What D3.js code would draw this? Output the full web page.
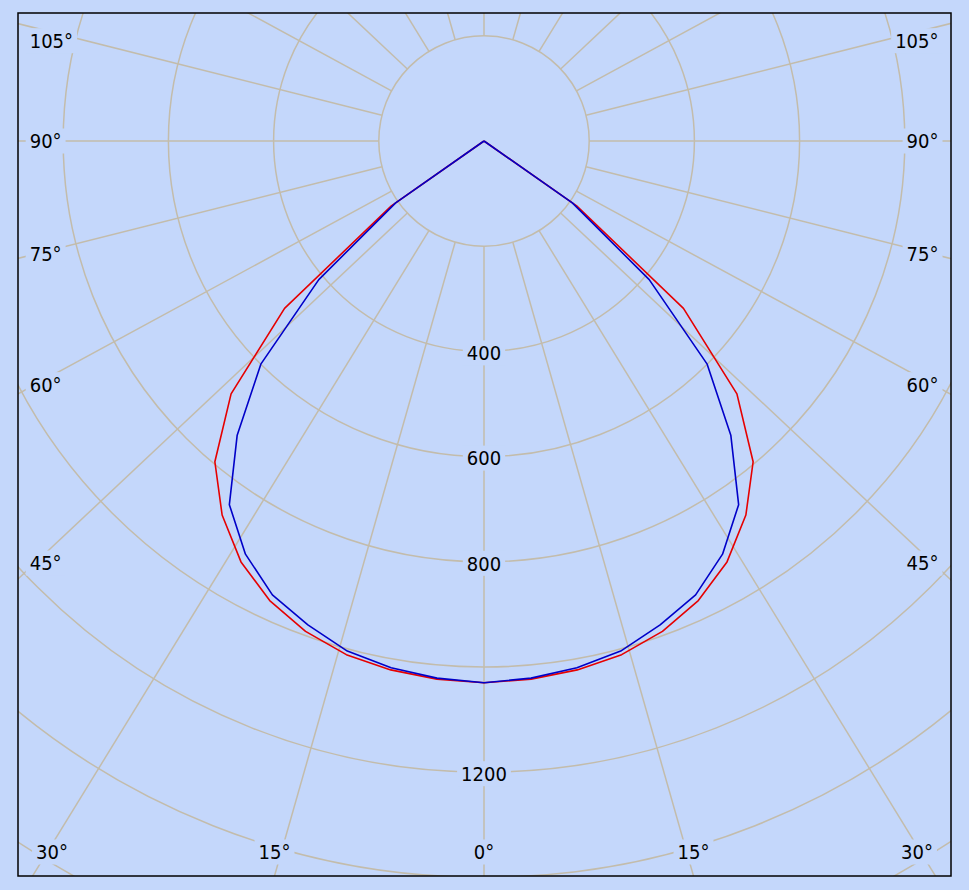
<!DOCTYPE html>
<html><head><meta charset="utf-8">
<script src="https://cdn.jsdelivr.net/npm/d3@7"></script>
<style>html,body{margin:0;padding:0;background:#c4d7fb;} svg{display:block;}</style>
</head><body>
<svg id="chart" width="969" height="890"></svg>
<script>
// ---- data ----
const angles = [0,5,10,15,20,25,30,35,40,45,50,55,60,65,70,75,80,85,90];
const redValues  = [1030,1027,1021,1011,992,964,924,868,796,680,495,215,0,0,0,0,0,0,0];
const blueValues = [1030,1025,1017,1004,979,952,907,844,730,600,410,205,0,0,0,0,0,0,0];
const ringValues = [200,400,600,800,1000,1200,1400,1600,1800];
const ringLabels = [400,600,800,1200];
const spokeAngles = [0,15,30,45,60,75,90,105,120,135,150,165,180];

// ---- layout ----
const W = 969, H = 890;
const frame = {left: 18, top: 13, right: 951, bottom: 876};
const cx = 484, cy = 141;
const spokeAspect = 0.94;
const bg = "#c4d7fb", gridColor = "#c3bcab";
const font = "'DejaVu Sans Condensed', 'DejaVu Sans', sans-serif";
const fontSize = 20;

const r = d3.scaleLinear().domain([0, 1600]).range([0, 841.6]);
const svg = d3.select("#chart");

svg.append("rect").attr("width", W).attr("height", H).attr("fill", bg);
svg.append("defs").append("clipPath").attr("id", "clip")
  .append("rect").attr("x", frame.left).attr("y", frame.top)
  .attr("width", frame.right - frame.left).attr("height", frame.bottom - frame.top);

const plot = svg.append("g").attr("clip-path", "url(#clip)");
const grid = plot.append("g");

// rings
grid.selectAll("circle.ring").data(ringValues).join("circle")
  .attr("class", "ring").attr("cx", cx).attr("cy", cy).attr("r", d => r(d))
  .attr("fill", "none").attr("stroke", gridColor).attr("stroke-width", 1.5);

// spokes
const rInner = r(ringValues[0]);
const spokes = [];
spokeAngles.forEach(a => {
  const sides = (a === 0 || a === 180) ? [1] : [-1, 1];
  sides.forEach(s => {
    const t = a * Math.PI / 180;
    let ux = s * Math.sin(t), uy = spokeAspect * Math.cos(t);
    const n = Math.hypot(ux, uy); ux /= n; uy /= n;
    spokes.push({a, s, ux, uy});
  });
});
grid.selectAll("line.spoke").data(spokes).join("line")
  .attr("class", "spoke")
  .attr("x1", d => cx + rInner * d.ux).attr("y1", d => cy + rInner * d.uy)
  .attr("x2", d => cx + 2000 * d.ux).attr("y2", d => cy + 2000 * d.uy)
  .attr("stroke", gridColor).attr("stroke-width", 1.5);

// curves
function series(vals) {
  const left = angles.map((a, i) => [-a, vals[i]]).reverse();
  const right = angles.slice(1).map((a, i) => [a, vals[i + 1]]);
  return left.concat(right);
}
const radial = d3.lineRadial()
  .angle(d => Math.PI - d[0] * Math.PI / 180)
  .radius(d => r(d[1]))
  .curve(d3.curveLinear);
const curves = plot.append("g").attr("transform", `translate(${cx},${cy})`);
curves.append("path").datum(series(redValues)).attr("d", radial)
  .attr("fill", "none").attr("stroke", "#e60000").attr("stroke-width", 1.6).attr("stroke-linejoin", "round");
curves.append("path").datum(series(blueValues)).attr("d", radial)
  .attr("fill", "none").attr("stroke", "#0000c8").attr("stroke-width", 1.6).attr("stroke-linejoin", "round");

// labels with background boxes
const labels = plot.append("g");
function addLabel(text, x, yc, anchor) {
  const g = labels.append("g");
  const rect = g.append("rect").attr("fill", bg);
  const t = g.append("text").attr("x", x).attr("y", yc + 0.36 * fontSize)
    .attr("text-anchor", anchor).attr("font-family", font).attr("font-size", fontSize)
    .attr("fill", "#000").text(text);
  const bb = t.node().getBBox();
  rect.attr("x", bb.x - 4).attr("y", yc - 12.5).attr("width", bb.width + 8).attr("height", 25);
}

ringLabels.forEach(v => addLabel(String(v), cx, cy + r(v) + 1.5, "middle"));

spokes.forEach(d => {
  const tx = d.ux === 0 ? Infinity : ((d.ux < 0 ? frame.left : frame.right) - cx) / d.ux;
  const ty = d.uy > 0 ? (frame.bottom - cy) / d.uy : (d.uy < 0 ? (frame.top - cy) / d.uy : Infinity);
  const txt = d.a + "\u00B0";
  if (tx < ty) {
    let y = cy + d.uy / Math.abs(d.ux) * 449;
    y = Math.max(y, frame.top + 27.7);
    if (d.s < 0) addLabel(txt, 29.7, y, "start");
    else addLabel(txt, 938.5, y, "end");
  } else if (d.uy > 0) {
    let x = cx + d.ux / d.uy * (frame.bottom - cy);
    x = Math.max(frame.left + 34, Math.min(frame.right - 34, x));
    addLabel(txt, x, frame.bottom - 24, "middle");
  }
});

// frame
svg.append("rect").attr("x", frame.left).attr("y", frame.top)
  .attr("width", frame.right - frame.left).attr("height", frame.bottom - frame.top)
  .attr("fill", "none").attr("stroke", "#000").attr("stroke-width", 1.5);
</script>
</body></html>
